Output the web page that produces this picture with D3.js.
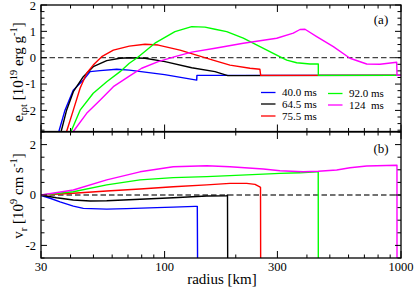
<!DOCTYPE html>
<html><head><meta charset="utf-8">
<script src="https://cdn.jsdelivr.net/npm/d3@7"></script>
<style>body{margin:0;background:#fff}svg{display:block}</style>
</head><body><svg id="c" width="415" height="288"></svg>
<script>
// ---- data (radius km, value) ----
const times = ["40.0 ms","64.5 ms","75.5 ms","92.0 ms","124  ms"];
const colors = ["#0000ff","#000000","#ff0000","#00ff00","#ff00ff"];
const xTickLabels = [30,100,300,1000];
const eTicks = [-2,-1,0,1,2];
const vTicks = [-2,0,2];

const e40 = [[35,-3.1],[35.7,-2.8],[37.9,-1.99],[41.1,-1.23],[45.3,-0.85],[48.4,-0.53],[53.3,-0.49],[62.7,-0.44],[70.9,-0.47],[100,-0.64],[136.7,-0.85],[137,-0.67],[1000,-0.67]];
const e64 = [[36,-3.1],[36.5,-2.8],[38.5,-1.99],[41.1,-1.29],[45.3,-0.72],[49.9,-0.34],[56.9,-0.11],[64.8,-0.02],[70.9,0],[82.6,-0.02],[100.4,-0.15],[130.2,-0.38],[163.4,-0.53],[185,-0.68],[1000,-0.67]];
const e75 = [[38,-3.1],[38.5,-2.8],[41.1,-1.99],[43.9,-1.16],[46.8,-0.59],[49.9,-0.28],[54.2,0.04],[60.7,0.29],[70.9,0.44],[82.6,0.51],[94,0.48],[116.2,0.29],[160.2,-0.09],[189,-0.28],[229.7,-0.40],[253,-0.44],[255,-0.67],[1000,-0.67]];
const e92 = [[39.6,-3.1],[40.2,-2.8],[43.9,-1.99],[49.9,-1.35],[56.9,-0.91],[64.8,-0.53],[70.9,-0.21],[76.6,0],[91,0.55],[110.6,0.99],[130.2,1.18],[148.2,1.16],[163.4,1.08],[183.1,0.99],[215.2,0.74],[253.2,0.42],[298,0.10],[328.6,-0.09],[362.1,-0.19],[412.2,-0.24],[446.8,-0.24],[447,-0.67],[1000,-0.67]];
const e124 = [[40.3,-3.1],[41.1,-2.8],[46.8,-2.11],[53.3,-1.61],[60.7,-1.10],[70.9,-0.70],[80,-0.40],[94,-0.15],[110.6,0.04],[130.2,0.21],[163.4,0.36],[215.2,0.55],[298,0.74],[350.3,0.93],[373.9,1.07],[392.6,1.08],[439.9,0.80],[517.3,0.42],[608.4,-0.02],[715.9,-0.24],[814.9,-0.25],[958.9,-0.17],[962,-0.67],[1000,-0.67]];

const v40 = [[30,-0.02],[32.8,-0.13],[36.1,-0.27],[41.1,-0.44],[45.3,-0.53],[56.9,-0.56],[69.1,-0.54],[92.6,-0.50],[108.8,-0.48],[134.4,-0.45],[137.5,-0.45],[138,-3.5]];
const v64 = [[30,-0.01],[34.9,-0.11],[41.1,-0.20],[48.4,-0.24],[56.9,-0.23],[78.7,-0.17],[108.8,-0.11],[150.7,-0.04],[183.1,-0.03],[184.5,0.0],[185,-3.5]];
const v75 = [[30,0],[41.1,0.07],[56.9,0.16],[78.7,0.24],[108.8,0.33],[150.7,0.40],[189,0.46],[222.5,0.46],[241.3,0.42],[251.5,0.33],[254.5,0.30],[255,-3.5]];
const v92 = [[30,0],[41.1,0.13],[56.9,0.40],[78.7,0.60],[108.8,0.69],[150.7,0.73],[189,0.77],[307.7,0.86],[373.9,0.88],[439.9,0.92],[446.5,0.92],[447,-3.5]];
const v124 = [[30,0],[41.1,0.20],[56.9,0.60],[78.7,0.92],[108.8,1.12],[150.7,1.16],[189,1.12],[261.5,1.03],[307.7,0.96],[386,0.92],[446.8,0.94],[534.6,0.99],[608.4,1.08],[715.9,1.15],[958.9,1.18],[961.5,1.18],[962,-3.5]];

const eSeries = [e40,e64,e75,e92,e124];
const vSeries = [v40,v64,v75,v92,v124];

// ---- layout ----
const svg = d3.select("#c");
const L = 41, R = 401;
const x = d3.scaleLog().domain([30,1000]).range([L,R]);
const yE = d3.scaleLinear().domain([-2.8,2]).range([131.5,5]);
const yV = d3.scaleLinear().domain([-2.5,2.5]).range([258,132]);
const minorX = [40,50,60,70,80,90,200,400,500,600,700,800,900];

function txt(sel){ return sel.append("text").attr("font-family","Liberation Serif").attr("fill","#000"); }

function panel(y, series, ticks, minorStep, id, label, labelY) {
  const [y0,y1] = y.range();
  svg.append("clipPath").attr("id",id).append("rect")
     .attr("x",L).attr("y",y1).attr("width",R-L).attr("height",y0-y1);
  const g = svg.append("g");
  g.append("line").attr("x1",L).attr("x2",R).attr("y1",y(0)).attr("y2",y(0))
   .attr("stroke","#444").attr("stroke-width",1.3).attr("stroke-dasharray","5.5,3");
  const line = d3.line().x(d=>x(d[0])).y(d=>y(d[1]));
  const cg = g.append("g").attr("clip-path",`url(#${id})`);
  series.forEach((s,i)=>{
    cg.append("path").attr("d",line(s)).attr("fill","none")
      .attr("stroke",colors[i]).attr("stroke-width",1.4).attr("stroke-linejoin","round");
  });
  const [dmin,dmax] = y.domain();
  const minors = d3.range(Math.ceil(dmin/minorStep)*minorStep, dmax+1e-9, minorStep);
  const tg = g.append("g").attr("stroke","#000").attr("stroke-width",1);
  minors.forEach(v=>{
    const major = ticks.some(t=>Math.abs(t-v)<1e-6);
    const len = major?6:3.5;
    tg.append("line").attr("x1",L).attr("x2",L+len).attr("y1",y(v)).attr("y2",y(v));
    tg.append("line").attr("x1",R).attr("x2",R-len).attr("y1",y(v)).attr("y2",y(v));
  });
  xTickLabels.concat(minorX).forEach(v=>{
    const major = xTickLabels.includes(v);
    const len = major?7:3.5;
    tg.append("line").attr("x1",x(v)).attr("x2",x(v)).attr("y1",y1).attr("y2",y1+len);
    tg.append("line").attr("x1",x(v)).attr("x2",x(v)).attr("y1",y0).attr("y2",y0-len);
  });
  ticks.forEach(t=>{
    const yy = Math.max(y(t)+4.2, 9.8);
    txt(g).attr("x",36).attr("y",yy).attr("text-anchor","end")
     .attr("font-size",12.5).text(String(t));
  });
  g.append("rect").attr("x",L).attr("y",y1).attr("width",R-L).attr("height",y0-y1)
   .attr("fill","none").attr("stroke","#000").attr("stroke-width",1.3);
  txt(g).attr("x",381).attr("y",labelY).attr("text-anchor","middle")
   .attr("font-size",13).text(label);
}
panel(yE, eSeries, eTicks, 0.25, "cpE", "(a)", 24);
panel(yV, vSeries, vTicks, 0.5, "cpV", "(b)", 153);

xTickLabels.forEach(v=>{
  txt(svg).attr("x",x(v)).attr("y",271).attr("text-anchor","middle")
     .attr("font-size",12.5).text(String(v));
});
txt(svg).attr("x",222).attr("y",284).attr("text-anchor","middle")
   .attr("font-size",15).text("radius [km]");

const t1 = txt(svg).attr("transform","translate(23,72) rotate(-90)")
   .attr("text-anchor","middle").attr("font-size",15);
t1.append("tspan").text("e");
t1.append("tspan").attr("font-size",10.5).attr("dy",4).text("tot");
t1.append("tspan").attr("dy",-4).text(" [10");
t1.append("tspan").attr("font-size",10.5).attr("dy",-6).text("19");
t1.append("tspan").attr("dy",6).text(" erg g");
t1.append("tspan").attr("font-size",10.5).attr("dy",-6).text("-1");
t1.append("tspan").attr("dy",6).text("]");

const t2 = txt(svg).attr("transform","translate(23,196) rotate(-90)")
   .attr("text-anchor","middle").attr("font-size",15);
t2.append("tspan").text("v");
t2.append("tspan").attr("font-size",10.5).attr("dy",4).text("r");
t2.append("tspan").attr("dy",-4).text(" [10");
t2.append("tspan").attr("font-size",10.5).attr("dy",-6).text("9");
t2.append("tspan").attr("dy",6).text(" cm s");
t2.append("tspan").attr("font-size",10.5).attr("dy",-6).text("-1");
t2.append("tspan").attr("dy",6).text("]");

const legPos = [[261,92.5],[261,104],[261,116],[328,93.5],[328,105]];
times.forEach((t,i)=>{
  const [lx,ly] = legPos[i];
  svg.append("line").attr("x1",lx).attr("x2",lx+14.5).attr("y1",ly).attr("y2",ly)
     .attr("stroke",colors[i]).attr("stroke-width",1.3);
  txt(svg).attr("x",lx+21).attr("y",ly+3.5).attr("font-size",11)
     .style("white-space","pre").text(t);
});
</script></body></html>
